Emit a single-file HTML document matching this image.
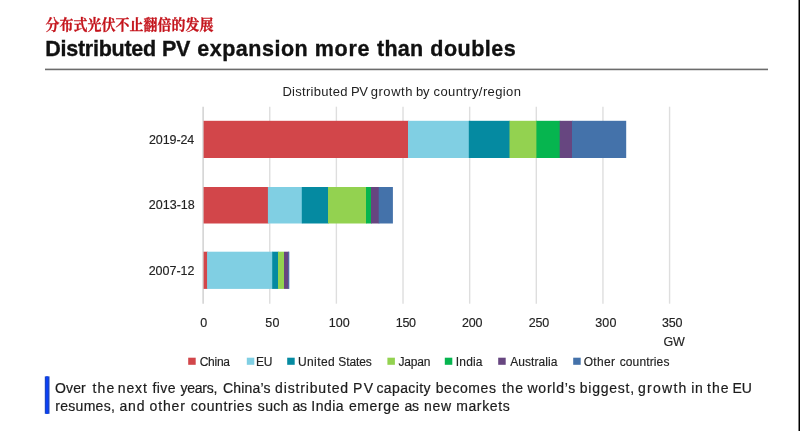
<!DOCTYPE html>
<html><head><meta charset="utf-8">
<style>
html,body{margin:0;padding:0;background:#fff;}
body{width:800px;height:431px;position:relative;overflow:hidden;font-family:"Liberation Sans","Noto Sans CJK SC",sans-serif;color:#222;}
.abs{position:absolute;white-space:nowrap;}
#cn{left:45.6px;top:16px;transform-origin:0 50%;transform:scaleY(1.04);font-family:"Liberation Serif","Noto Serif CJK SC",serif;font-weight:bold;font-size:14px;line-height:20px;color:#c4141c;-webkit-text-stroke:0.25px #c4141c;}
#rule{left:45px;top:68px;width:723px;height:3px;background:linear-gradient(#c6c6c6 0,#c6c6c6 1px,#6c6c6c 1px,#6c6c6c 2px,#dedede 2px,#dedede 3px);}
.tx{position:absolute;left:0;width:800px;height:0;white-space:nowrap;}
.tx span{position:absolute;top:0;}
#rb{right:0;top:0;width:2px;height:431px;background:linear-gradient(90deg,#808080 0,#808080 1px,#000 1px,#000 2px);}
</style></head><body>
<div class="abs" id="cn">分布式光伏不止翻倍的发展</div>
<div class="abs" id="rule"></div>

<svg class="abs" style="left:0;top:0" width="800" height="431" viewBox="0 0 800 431">
<line x1="203.10" x2="203.10" y1="106.7" y2="303.7" stroke="#c6c6c6" stroke-width="1.2"/>
<line x1="269.74" x2="269.74" y1="106.7" y2="303.7" stroke="#dedede" stroke-width="1.4"/>
<line x1="336.38" x2="336.38" y1="106.7" y2="303.7" stroke="#dedede" stroke-width="1.4"/>
<line x1="403.02" x2="403.02" y1="106.7" y2="303.7" stroke="#dedede" stroke-width="1.4"/>
<line x1="469.66" x2="469.66" y1="106.7" y2="303.7" stroke="#dedede" stroke-width="1.4"/>
<line x1="536.30" x2="536.30" y1="106.7" y2="303.7" stroke="#dedede" stroke-width="1.4"/>
<line x1="602.94" x2="602.94" y1="106.7" y2="303.7" stroke="#dedede" stroke-width="1.4"/>
<line x1="669.58" x2="669.58" y1="106.7" y2="303.7" stroke="#dedede" stroke-width="1.4"/>
<rect x="203.60" y="120.8" width="205.00" height="37.20" fill="#d2464a"/>
<rect x="408.00" y="120.8" width="61.40" height="37.20" fill="#80cfe3"/>
<rect x="468.80" y="120.8" width="41.30" height="37.20" fill="#058aa1"/>
<rect x="509.50" y="120.8" width="27.50" height="37.20" fill="#93d250"/>
<rect x="536.40" y="120.8" width="23.90" height="37.20" fill="#06b54f"/>
<rect x="559.70" y="120.8" width="12.90" height="37.20" fill="#674680"/>
<rect x="572.00" y="120.8" width="54.20" height="37.20" fill="#4472aa"/>
<rect x="203.60" y="187.0" width="64.90" height="36.50" fill="#d2464a"/>
<rect x="267.90" y="187.0" width="34.50" height="36.50" fill="#80cfe3"/>
<rect x="301.80" y="187.0" width="26.80" height="36.50" fill="#058aa1"/>
<rect x="328.00" y="187.0" width="38.60" height="36.50" fill="#93d250"/>
<rect x="366.00" y="187.0" width="5.60" height="36.50" fill="#06b54f"/>
<rect x="371.00" y="187.0" width="8.30" height="36.50" fill="#674680"/>
<rect x="378.70" y="187.0" width="14.20" height="36.50" fill="#4472aa"/>
<rect x="203.60" y="251.7" width="4.10" height="37.20" fill="#d2464a"/>
<rect x="207.10" y="251.7" width="65.70" height="37.20" fill="#80cfe3"/>
<rect x="272.20" y="251.7" width="6.40" height="37.20" fill="#058aa1"/>
<rect x="278.00" y="251.7" width="6.00" height="37.20" fill="#93d250"/>
<rect x="284.00" y="251.7" width="4.90" height="37.20" fill="#674680"/>
<rect x="288.30" y="251.7" width="1.00" height="37.20" fill="#4472aa"/>
<rect x="188.2" y="357.7" width="7.5" height="7.1" fill="#d2464a"/>
<rect x="246.8" y="357.7" width="7.5" height="7.1" fill="#80cfe3"/>
<rect x="287.2" y="357.7" width="7.5" height="7.1" fill="#058aa1"/>
<rect x="387.4" y="357.7" width="7.5" height="7.1" fill="#93d250"/>
<rect x="444.8" y="357.7" width="7.5" height="7.1" fill="#06b54f"/>
<rect x="498.2" y="357.7" width="7.5" height="7.1" fill="#674680"/>
<rect x="573.2" y="357.7" width="7.5" height="7.1" fill="#4472aa"/>
<rect x="44.8" y="376.4" width="4.7" height="37.4" fill="#1a46c0"/><rect x="46" y="376.4" width="2.2" height="37.4" fill="#0b40f5"/>
</svg>
<div class="tx" style="top:33.95px;font-size:21.5px;line-height:30px;font-weight:bold;color:#111;-webkit-text-stroke:0.35px #111"><span style="left:45.15px;letter-spacing:-0.240px">Distributed</span> <span style="left:162.10px;letter-spacing:-0.500px">PV</span> <span style="left:197.25px;letter-spacing:0.513px">expansion</span> <span style="left:314.75px;letter-spacing:0.750px">more</span> <span style="left:377.00px;letter-spacing:0.250px">than</span> <span style="left:430.25px;letter-spacing:0.500px">doubles</span></div>
<div class="tx" style="top:82.0px;font-size:13px;line-height:20px;font-weight:normal;color:#222"><span style="left:282.45px;letter-spacing:0.280px">Distributed</span> <span style="left:350.92px;letter-spacing:-0.300px">PV</span> <span style="left:370.70px;letter-spacing:0.550px">growth</span> <span style="left:416.05px;letter-spacing:-0.300px">by</span> <span style="left:433.50px;letter-spacing:0.392px">country/region</span></div>
<div class="tx" style="top:377.95px;font-size:14px;line-height:20px;font-weight:normal;color:#1c1c1c;-webkit-text-stroke:0.2px #1c1c1c"><span style="left:55.10px;letter-spacing:0.083px">Over</span> <span style="left:92.50px;letter-spacing:1.125px">the</span> <span style="left:117.75px;letter-spacing:0.883px">next</span> <span style="left:152.50px;letter-spacing:0.417px">five</span> <span style="left:180.60px;letter-spacing:-0.270px">years,</span> <span style="left:223.00px;letter-spacing:0.167px">China’s</span> <span style="left:275.10px;letter-spacing:0.840px">distributed</span> <span style="left:353.00px;letter-spacing:1.350px">PV</span> <span style="left:376.50px;letter-spacing:0.371px">capacity</span> <span style="left:435.75px;letter-spacing:0.558px">becomes</span> <span style="left:501.90px;letter-spacing:0.800px">the</span> <span style="left:527.50px;letter-spacing:0.750px">world’s</span> <span style="left:579.85px;letter-spacing:0.736px">biggest,</span> <span style="left:638.00px;letter-spacing:1.270px">growth</span> <span style="left:691.15px;letter-spacing:0.750px">in</span> <span style="left:706.90px;letter-spacing:1.100px">the</span> <span style="left:732.60px;letter-spacing:-0.300px">EU</span></div>
<div class="tx" style="top:396.15px;font-size:14px;line-height:20px;font-weight:normal;color:#1c1c1c;-webkit-text-stroke:0.2px #1c1c1c"><span style="left:55.25px;letter-spacing:0.286px">resumes,</span> <span style="left:119.50px;letter-spacing:0.800px">and</span> <span style="left:149.50px;letter-spacing:0.875px">other</span> <span style="left:190.75px;letter-spacing:0.581px">countries</span> <span style="left:257.85px;letter-spacing:0.300px">such</span> <span style="left:292.52px;letter-spacing:-0.300px">as</span> <span style="left:311.25px;letter-spacing:0.500px">India</span> <span style="left:348.90px;letter-spacing:0.620px">emerge</span> <span style="left:404.40px;letter-spacing:-0.300px">as</span> <span style="left:424.00px;letter-spacing:0.750px">new</span> <span style="left:456.15px;letter-spacing:0.625px">markets</span></div>
<div class="tx" style="top:129.57px;font-size:12.5px;line-height:20px;font-weight:normal;color:#222;-webkit-text-stroke:0.15px #222"><span style="left:148.90px;letter-spacing:-0.075px">2019-24</span></div>
<div class="tx" style="top:195.47px;font-size:12.5px;line-height:20px;font-weight:normal;color:#222;-webkit-text-stroke:0.15px #222"><span style="left:148.70px;letter-spacing:0.033px">2013-18</span></div>
<div class="tx" style="top:261.07px;font-size:12.5px;line-height:20px;font-weight:normal;color:#222;-webkit-text-stroke:0.15px #222"><span style="left:148.70px;letter-spacing:-0.025px">2007-12</span></div>
<div class="tx" style="top:312.67px;font-size:12.5px;line-height:20px;font-weight:normal;color:#222;-webkit-text-stroke:0.15px #222"><span style="left:200.30px;letter-spacing:0.000px">0</span> <span style="left:265.30px;letter-spacing:0.300px">50</span> <span style="left:328.85px;letter-spacing:-0.025px">100</span> <span style="left:395.75px;letter-spacing:-0.275px">150</span> <span style="left:462.10px;letter-spacing:-0.200px">200</span> <span style="left:528.80px;letter-spacing:-0.200px">250</span> <span style="left:595.20px;letter-spacing:0.200px">300</span> <span style="left:661.90px;letter-spacing:-0.150px">350</span></div>
<div class="tx" style="top:331.67px;font-size:12.5px;line-height:20px;font-weight:normal;color:#222;-webkit-text-stroke:0.15px #222"><span style="left:663.55px;letter-spacing:-0.300px">GW</span></div>
<div class="tx" style="top:351.94px;font-size:12px;line-height:20px;font-weight:normal;color:#222;-webkit-text-stroke:0.15px #222"><span style="left:199.70px;letter-spacing:-0.250px">China</span> <span style="left:256.12px;letter-spacing:-0.300px">EU</span> <span style="left:297.95px;letter-spacing:0.410px">United</span> <span style="left:338.30px;letter-spacing:-0.110px">States</span> <span style="left:398.45px;letter-spacing:-0.162px">Japan</span> <span style="left:455.80px;letter-spacing:0.162px">India</span> <span style="left:510.20px;letter-spacing:0.069px">Australia</span> <span style="left:583.70px;letter-spacing:0.325px">Other</span> <span style="left:619.70px;letter-spacing:0.131px">countries</span></div>
<div class="abs" id="rb"></div>
</body></html>
